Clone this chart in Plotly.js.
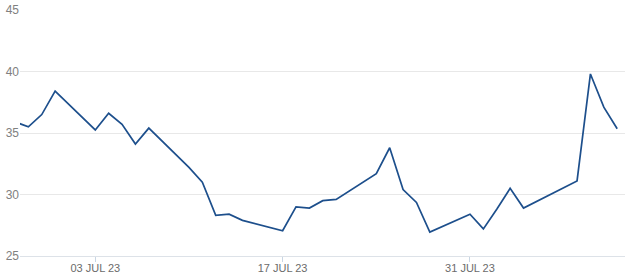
<!DOCTYPE html>
<html>
<head>
<meta charset="utf-8">
<script src="https://cdn.plot.ly/plotly-3.0.1.min.js"></script>
<style>html,body{margin:0;padding:0;background:#fff;}#chart{width:625px;height:279px;}</style>
</head>
<body>
<div id="chart"></div>
<script>
const dates = ['2023-06-27','2023-06-28','2023-06-29','2023-06-30','2023-07-03','2023-07-04','2023-07-05','2023-07-06','2023-07-07',
  '2023-07-10','2023-07-11','2023-07-12','2023-07-13','2023-07-14','2023-07-17','2023-07-18','2023-07-19','2023-07-20','2023-07-21',
  '2023-07-24','2023-07-25','2023-07-26','2023-07-27','2023-07-28','2023-07-31','2023-08-01','2023-08-02','2023-08-03','2023-08-04',
  '2023-08-07','2023-08-08','2023-08-09','2023-08-10','2023-08-11'];
const values = [35.9,35.5,36.5,38.4,35.25,36.6,35.7,34.1,35.4,
  32.2,31.0,28.3,28.4,27.9,27.05,29.0,28.9,29.5,29.6,
  31.7,33.8,30.4,29.35,26.95,28.4,27.2,28.8,30.5,28.9,
  30.55,31.1,39.8,37.1,35.35];
const tickDates = ['2023-07-03','2023-07-17','2023-07-31'];
const tickLabels = ['03 JUL 23','17 JUL 23','31 JUL 23'];
const yTicks = [25,30,35,40,45];

Plotly.newPlot('chart', [{
  x: dates, y: values, type: 'scatter', mode: 'lines',
  line: {color: '#1d4f8c', width: 1.7},
  hoverinfo: 'skip'
}], {
  width: 625, height: 279,
  margin: {l: 20, r: 0, t: 10, b: 23, pad: 0},
  paper_bgcolor: '#ffffff', plot_bgcolor: '#ffffff',
  showlegend: false,
  xaxis: {
    type: 'date',
    range: ['2023-06-27 09:00', '2023-08-11 14:00'],
    tickmode: 'array', tickvals: tickDates, ticktext: tickLabels,
    showgrid: false, zeroline: false,
    showline: true, linecolor: '#dde2e8', linewidth: 1,
    ticks: 'outside', ticklen: 5, tickcolor: '#c9d6e3', tickwidth: 1,
    ticklabelstandoff: -3,
    tickfont: {family: 'Liberation Sans, Arial, sans-serif', size: 11, color: '#6b6b6b'},
    automargin: false, fixedrange: true
  },
  yaxis: {
    range: [25, 45],
    tickmode: 'array', tickvals: yTicks,
    showgrid: true, gridcolor: '#e8e8e8', gridwidth: 1,
    zeroline: false, showline: false, ticks: '',
    tickfont: {family: 'Liberation Sans, Arial, sans-serif', size: 12, color: '#808080'},
    automargin: false, fixedrange: true
  }
}, {staticPlot: true, displayModeBar: false});
</script>
</body>
</html>
